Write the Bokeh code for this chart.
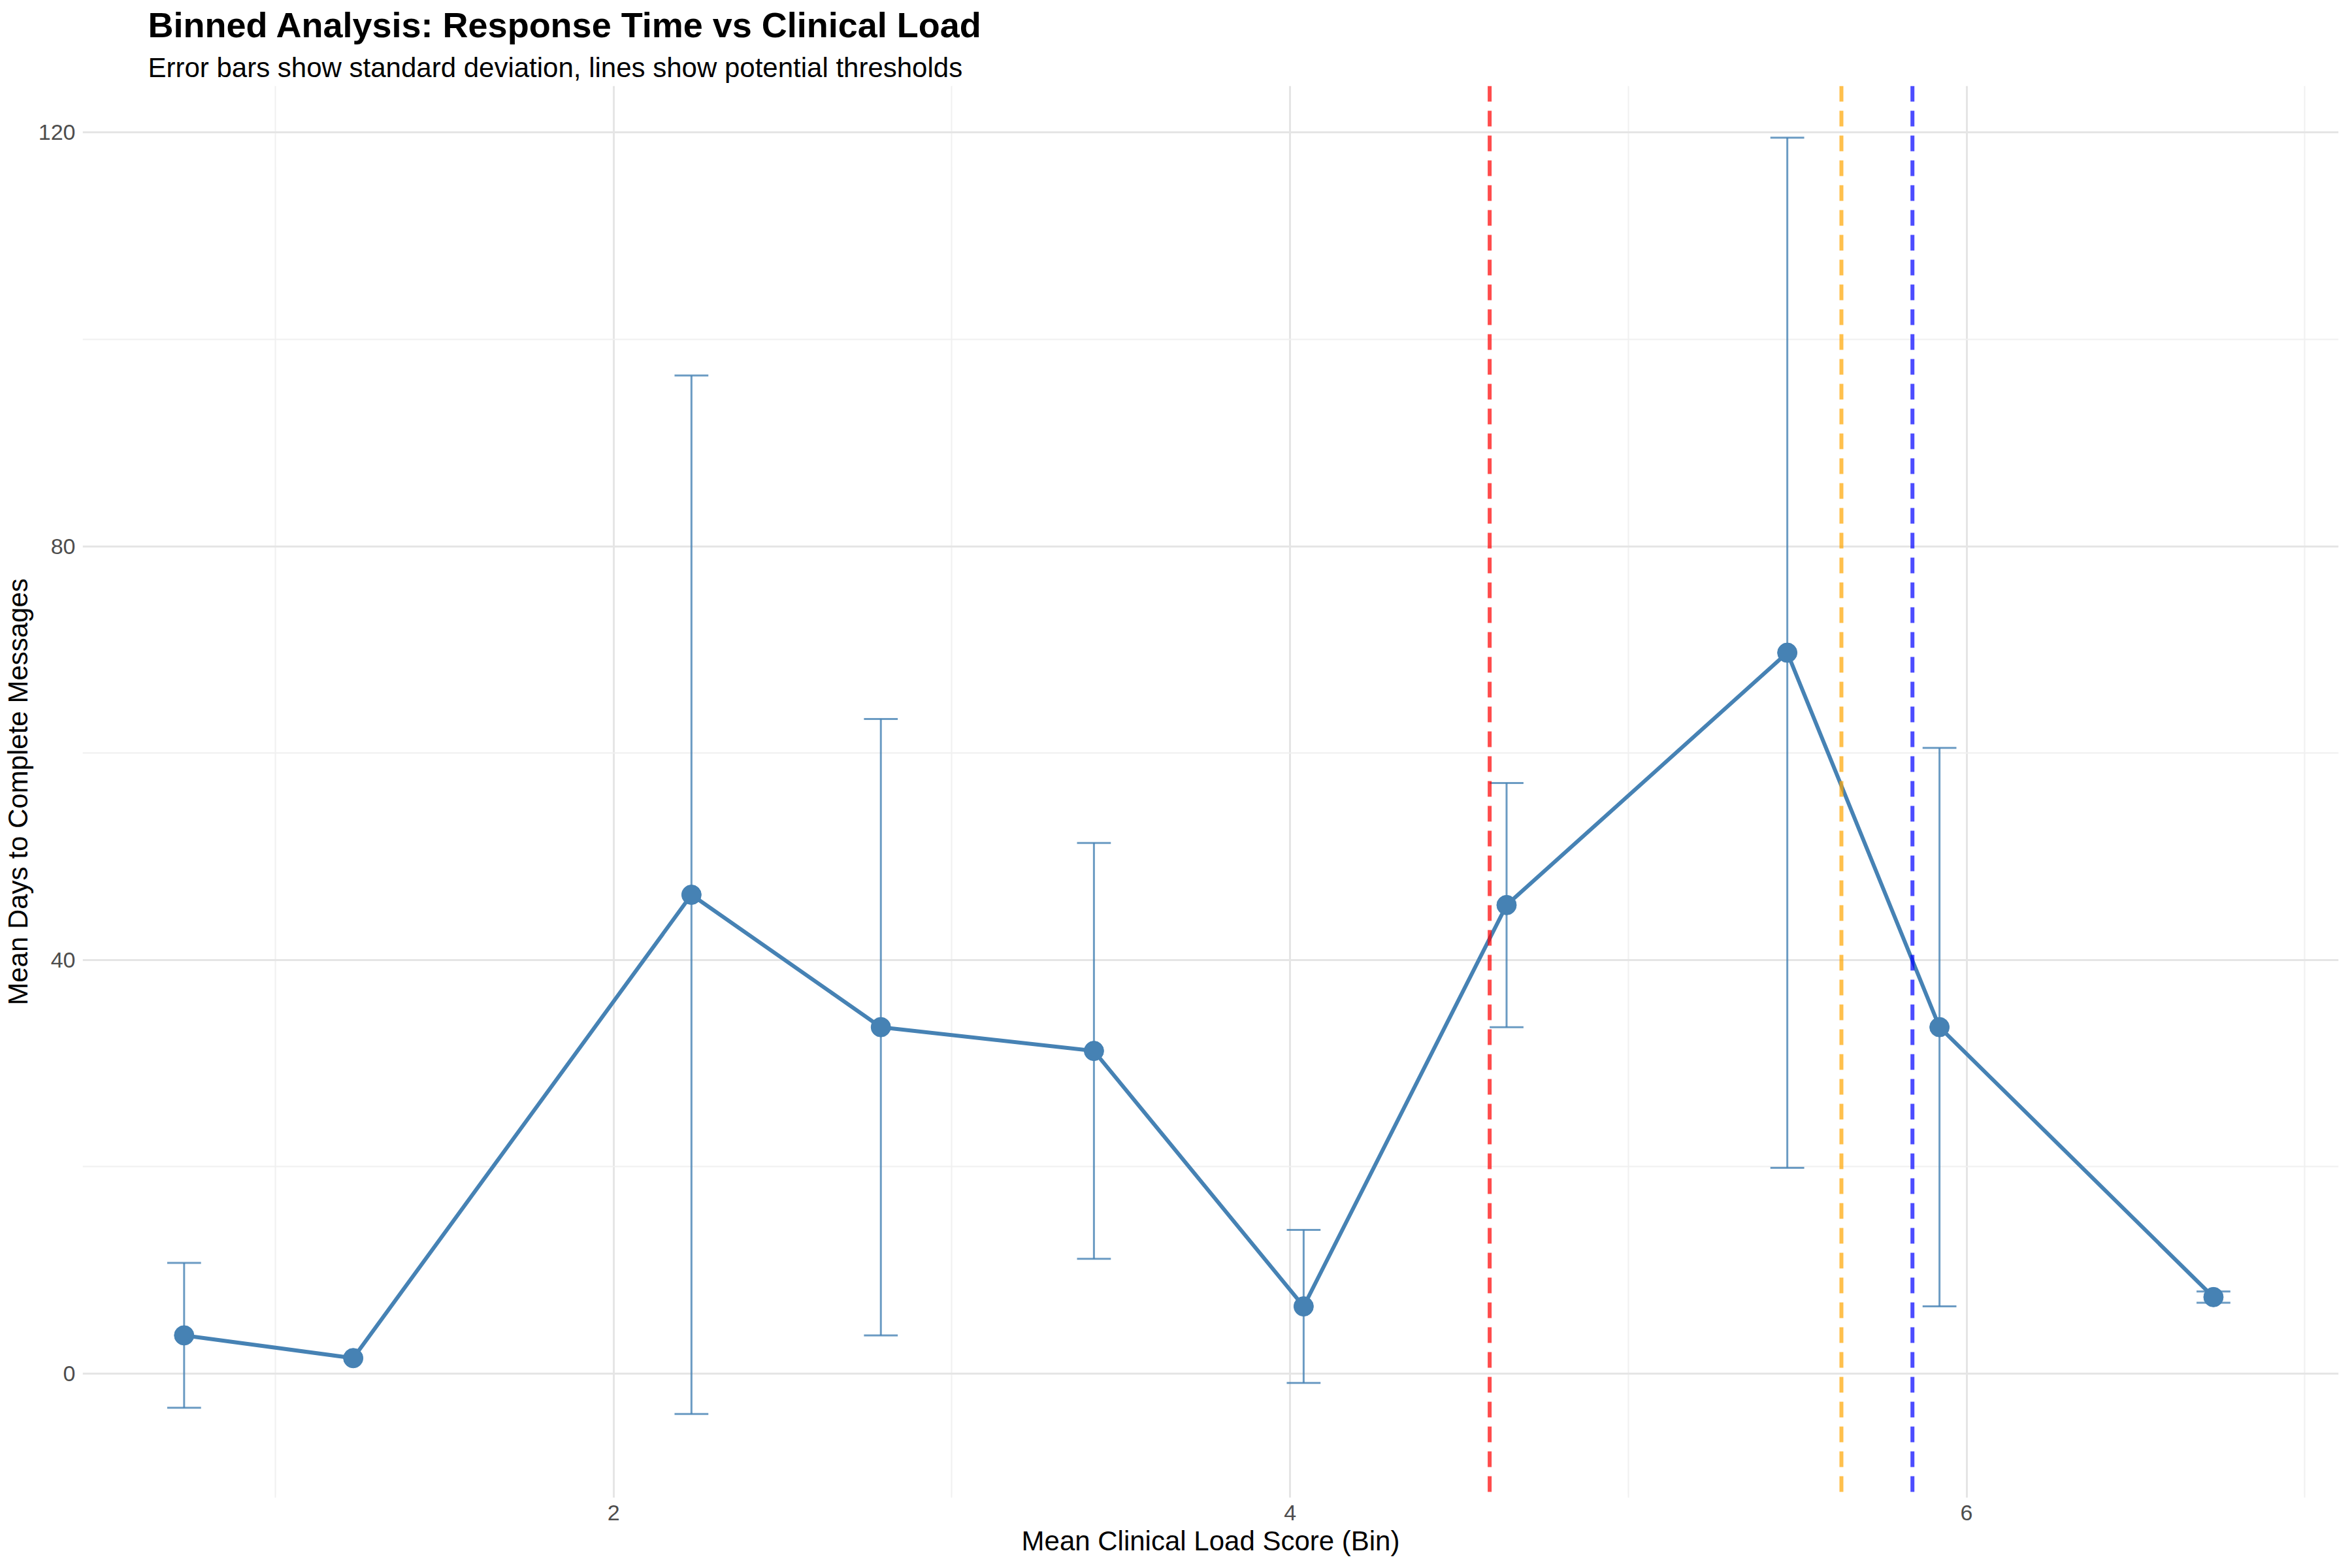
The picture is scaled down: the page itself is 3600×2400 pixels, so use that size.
from bokeh.plotting import figure
from bokeh.models import ColumnDataSource, Span, Title, FixedTicker
from bokeh.embed import file_html
from bokeh.resources import INLINE

load_bin = [0.73, 1.23, 2.23, 2.79, 3.42, 4.04, 4.64, 5.47, 5.92, 6.73]
mean_days = [3.7, 1.5, 46.3, 33.5, 31.2, 6.5, 45.3, 69.7, 33.5, 7.4]
sd_days = [7.0, 0.0, 50.2, 29.8, 20.1, 7.4, 11.8, 49.8, 27.0, 0.55]
thresholds = [4.59, 5.63, 5.84]
threshold_colors = ["red", "orange", "blue"]

lower = [m - s for m, s in zip(mean_days, sd_days)]
upper = [m + s for m, s in zip(mean_days, sd_days)]
has_err = [s > 0 for s in sd_days]
cap = 0.05
err = ColumnDataSource(dict(
    x=[x for x, h in zip(load_bin, has_err) if h],
    lo=[v for v, h in zip(lower, has_err) if h],
    hi=[v for v, h in zip(upper, has_err) if h],
))
err.data["x0"] = [x - cap for x in err.data["x"]]
err.data["x1"] = [x + cap for x in err.data["x"]]

p = figure(width=3584, height=2384, x_range=(0.43, 7.1), y_range=(-12, 124.5),
           output_backend="svg", toolbar_location=None,
           x_axis_label="Mean Clinical Load Score (Bin)",
           y_axis_label="Mean Days to Complete Messages")
p.add_layout(Title(text="Error bars show standard deviation, lines show potential thresholds",
                   text_font_size="42px", text_font="Liberation Sans", text_font_style="normal",
                   text_color="black", offset=100), "above")
p.add_layout(Title(text="Binned Analysis: Response Time vs Clinical Load",
                   text_font_size="54px", text_font="Liberation Sans", text_font_style="bold",
                   text_color="black", offset=100), "above")

p.segment(x0="x", x1="x", y0="lo", y1="hi", source=err, line_color="#4682B4", line_alpha=0.8, line_width=3)
p.segment(x0="x0", x1="x1", y0="lo", y1="lo", source=err, line_color="#4682B4", line_alpha=0.8, line_width=3)
p.segment(x0="x0", x1="x1", y0="hi", y1="hi", source=err, line_color="#4682B4", line_alpha=0.8, line_width=3)

p.line(load_bin, mean_days, line_color="#4682B4", line_width=6)
p.scatter(load_bin, mean_days, size=30, fill_color="#4682B4", line_color="#4682B4")

for t, c in zip(thresholds, threshold_colors):
    p.add_layout(Span(location=t, dimension="height", line_color=c, line_alpha=0.7,
                      line_width=6, line_dash="24 14"))

p.xaxis.ticker = FixedTicker(ticks=[2, 4, 6], minor_ticks=[1, 3, 5, 7])
p.yaxis.ticker = FixedTicker(ticks=[0, 40, 80, 120], minor_ticks=[20, 60, 100])
p.xgrid.minor_grid_line_color = "#f0f0f0"
p.ygrid.minor_grid_line_color = "#f0f0f0"
p.xgrid.minor_grid_line_width = 2
p.ygrid.minor_grid_line_width = 2
p.grid.grid_line_color = "#e5e5e5"
p.grid.grid_line_width = 3
p.axis.axis_line_color = None
p.axis.major_tick_line_color = None
p.axis.minor_tick_line_color = None
p.axis.major_label_text_font_size = "34px"
p.axis.major_label_text_color = "#4d4d4d"
p.axis.axis_label_text_font_size = "42px"
p.axis.axis_label_text_font_style = "normal"
p.axis.axis_label_text_color = "black"
p.axis.axis_label_text_font = "Liberation Sans"
p.axis.major_label_text_font = "Liberation Sans"
p.outline_line_color = None
p.min_border_left = 80
p.min_border_top = 40

open("out.html", "w").write(file_html(p, INLINE))
